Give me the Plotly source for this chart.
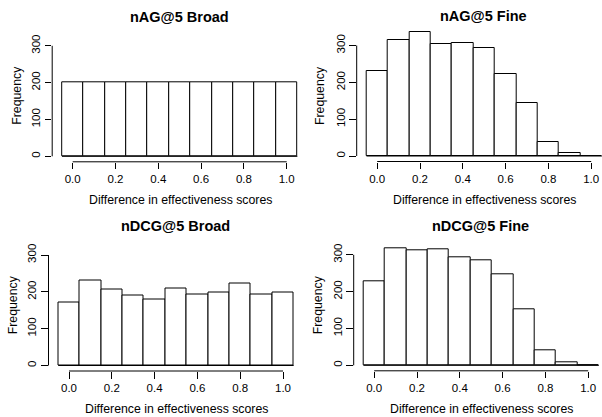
import plotly.graph_objects as go

# ---------------- data ----------------
bin_centers = [0.0, 0.1, 0.2, 0.3, 0.4, 0.5, 0.6, 0.7, 0.8, 0.9, 1.0]
bin_width = 0.1

nag_broad = [200, 200, 200, 200, 200, 200, 200, 200, 200, 200, 200]
nag_fine = [232, 314, 337, 305, 308, 294, 223, 145, 38, 7, 0]
ndcg_broad = [172, 230, 205, 190, 180, 208, 193, 197, 223, 194, 198]
ndcg_fine = [228, 317, 311, 315, 294, 285, 247, 153, 41, 9, 0]

panel_titles = ["nAG@5 Broad", "nAG@5 Fine", "nDCG@5 Broad", "nDCG@5 Fine"]
panel_values = [nag_broad, nag_fine, ndcg_broad, ndcg_fine]

x_ticks = [0.0, 0.2, 0.4, 0.6, 0.8, 1.0]
x_tick_labels = ["0.0", "0.2", "0.4", "0.6", "0.8", "1.0"]
y_ticks = [0, 100, 200, 300]
y_tick_labels = ["0", "100", "200", "300"]

x_label = "Difference in effectiveness scores"
y_label = "Frequency"

# ---------------- layout geometry (pixels) ----------------
W, H = 602, 417
SX = 214.0            # px per unit on x
SY = 110.5 / 300.0    # px per count on y
# pixel position of x=0 and count=0 for each panel
origins = [(72.7, 156.3), (377.2, 156.0), (69.0, 365.5), (374.2, 365.3)]

FONT = "Liberation Sans, Arial, Helvetica, sans-serif"

fig = go.Figure()
layout = {}
shapes = []
annotations = []

for i, ((x0, y0), vals, title) in enumerate(zip(origins, panel_values, panel_titles)):
    n = i + 1
    xa = "x" if n == 1 else f"x{n}"
    ya = "y" if n == 1 else f"y{n}"
    left, right = max(0.0, x0 - 20.5), min(float(W), x0 + 234.5)
    bottom, top = min(float(H), y0 + 5.5), max(0.0, y0 - 150.0)

    fig.add_trace(go.Bar(
        x=bin_centers, y=vals, width=[bin_width] * len(bin_centers),
        marker=dict(color="white", line=dict(color="black", width=1)),
        xaxis=xa, yaxis=ya, showlegend=False, hoverinfo="x+y",
        cliponaxis=False,
    ))

    layout["xaxis" if n == 1 else f"xaxis{n}"] = dict(
        domain=[left / W, right / W],
        range=[(left - x0) / SX, (right - x0) / SX],
        anchor=ya, showgrid=False, zeroline=False, showline=False,
        tickmode="array", tickvals=x_ticks, ticktext=x_tick_labels,
        ticks="outside", ticklen=6.5, tickwidth=1, tickcolor="black",
        tickfont=dict(family=FONT, size=11.5, color="black"),
        fixedrange=True,
    )
    layout["yaxis" if n == 1 else f"yaxis{n}"] = dict(
        domain=[1 - bottom / H, 1 - top / H],
        range=[(y0 - bottom) / SY, (y0 - top) / SY],
        anchor=xa, showgrid=False, zeroline=False, showline=False,
        tickmode="array", tickvals=y_ticks, ticktext=y_tick_labels,
        ticks="outside", ticklen=6.5, tickwidth=1, tickcolor="black",
        tickangle=-90,
        tickfont=dict(family=FONT, size=11.5, color="black"),
        fixedrange=True,
    )

    # R-style axis lines spanning only the tick range
    shapes.append(dict(type="line", xref=xa, yref=f"{ya} domain",
                       x0=min(x_ticks), x1=max(x_ticks), y0=0, y1=0,
                       line=dict(color="black", width=1)))
    shapes.append(dict(type="line", xref=f"{xa} domain", yref=ya,
                       x0=0, x1=0, y0=min(y_ticks), y1=max(y_ticks),
                       line=dict(color="black", width=1)))
    # histogram baseline (bottom edges of all bins, incl. empty ones)
    shapes.append(dict(type="line", xref=xa, yref=ya,
                       x0=min(bin_centers) - bin_width / 2,
                       x1=max(bin_centers) + bin_width / 2,
                       y0=0, y1=0, line=dict(color="black", width=1)))

    annotations.append(dict(text=f"<b>{title}</b>", xref="paper", yref="paper",
                            x=(x0 + 106.5) / W, y=1 - (y0 - 139.5) / H,
                            xanchor="center", yanchor="middle", showarrow=False,
                            font=dict(family=FONT, size=14.5, color="black")))
    annotations.append(dict(text=x_label, xref="paper", yref="paper",
                            x=(x0 + 107.5) / W, y=1 - (y0 + 43.5) / H,
                            xanchor="center", yanchor="middle", showarrow=False,
                            font=dict(family=FONT, size=12.3, color="black")))
    annotations.append(dict(text=y_label, xref="paper", yref="paper",
                            x=(x0 - 56.5) / W, y=1 - (y0 - 60.7) / H,
                            xanchor="center", yanchor="middle", showarrow=False,
                            textangle=-90,
                            font=dict(family=FONT, size=12.3, color="black")))

fig.update_layout(
    width=W, height=H,
    margin=dict(l=0, r=0, t=0, b=0),
    paper_bgcolor="white", plot_bgcolor="rgba(0,0,0,0)",
    bargap=0, showlegend=False,
    shapes=shapes, annotations=annotations,
    font=dict(family=FONT, color="black"),
    **layout,
)

fig.write_html(
    "out.html",
    config={"displayModeBar": False},
    post_script="document.body.style.margin='0';document.body.style.padding='0';"
                "document.body.style.overflow='hidden';",
)
